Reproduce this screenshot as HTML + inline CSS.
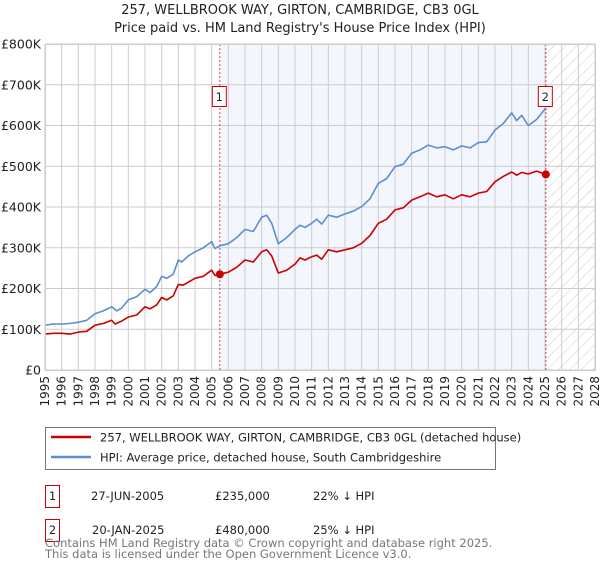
<!DOCTYPE html>
<html><head><meta charset="utf-8"><style>
body{margin:0;background:#fff;font-family:"DejaVu Sans","Liberation Sans",sans-serif;}
svg text{font-family:"DejaVu Sans","Liberation Sans",sans-serif;}
</style></head><body>
<svg id="c" width="600" height="560" xmlns="http://www.w3.org/2000/svg">
<defs><pattern id="hatch" width="8" height="8" patternUnits="userSpaceOnUse" patternTransform="rotate(45)"><line x1="0" y1="0" x2="0" y2="8" stroke="#ccc" stroke-width="1"/></pattern></defs>
<text x="300" y="14" text-anchor="middle" font-size="13" fill="#222">257, WELLBROOK WAY, GIRTON, CAMBRIDGE, CB3 0GL</text>
<text x="300" y="32" text-anchor="middle" font-size="13" fill="#222">Price paid vs. HM Land Registry's House Price Index (HPI)</text>
<g id="plot"></g>
<g id="legend">
<rect x="45.5" y="427.5" width="450" height="42" fill="#fff" stroke="#777"/>
<line x1="51" y1="437" x2="91" y2="437" stroke="#cc0000" stroke-width="2.5"/>
<text x="100" y="441.5" font-size="11.5" fill="#222">257, WELLBROOK WAY, GIRTON, CAMBRIDGE, CB3 0GL (detached house)</text>
<line x1="51" y1="457" x2="91" y2="457" stroke="#5b8fd0" stroke-width="2.5"/>
<text x="100" y="461.5" font-size="11.5" fill="#222">HPI: Average price, detached house, South Cambridgeshire</text>
</g>
<g font-size="11.5" fill="#222">
<rect x="45.5" y="485.5" width="14" height="22" fill="#fff" stroke="#cc0000"/>
<text x="52.5" y="500" text-anchor="middle">1</text>
<text x="91" y="500">27-JUN-2005</text><text x="215" y="500">£235,000</text><text x="313" y="500">22% ↓ HPI</text>
<rect x="45.5" y="519.5" width="14" height="22" fill="#fff" stroke="#cc0000"/>
<text x="52.5" y="534" text-anchor="middle">2</text>
<text x="92" y="534">20-JAN-2025</text><text x="215" y="534">£480,000</text><text x="313" y="534">25% ↓ HPI</text>
</g>
<text x="45" y="547" font-size="11.5" fill="#777">Contains HM Land Registry data © Crown copyright and database right 2025.</text>
<text x="45" y="558" font-size="11.5" fill="#777">This data is licensed under the Open Government Licence v3.0.</text>
</svg>
<script>
const hpiYears=[1995,1995.5,1996,1996.5,1997,1997.5,1998,1998.5,1999,1999.3,1999.6,2000,2000.5,2001,2001.3,2001.7,2002,2002.3,2002.7,2003,2003.2,2003.6,2004,2004.5,2005,2005.2,2005.5,2006,2006.5,2007,2007.5,2008,2008.3,2008.6,2009,2009.5,2010,2010.3,2010.6,2011,2011.3,2011.6,2012,2012.5,2013,2013.5,2014,2014.5,2015,2015.5,2016,2016.5,2017,2017.5,2018,2018.5,2019,2019.5,2020,2020.5,2021,2021.5,2022,2022.5,2023,2023.3,2023.6,2024,2024.5,2025.05];
const hpiValues=[110,113,113,114,117,122,138,145,155,145,152,172,180,198,190,205,230,225,235,270,265,280,290,300,315,298,305,310,325,345,340,375,380,360,310,325,345,355,350,360,370,358,380,375,383,390,401,420,458,470,499,505,532,540,552,545,548,540,550,545,558,560,589,605,631,612,625,600,615,643];
const ppYears=[1995,1995.5,1996,1996.5,1997,1997.5,1998,1998.5,1999,1999.2,1999.6,2000,2000.5,2001,2001.3,2001.7,2002,2002.3,2002.7,2003,2003.3,2003.7,2004,2004.5,2005,2005.2,2005.49,2006,2006.5,2007,2007.5,2008,2008.3,2008.6,2009,2009.5,2010,2010.3,2010.6,2011,2011.3,2011.6,2012,2012.5,2013,2013.5,2014,2014.5,2015,2015.5,2016,2016.5,2017,2017.5,2018,2018.5,2019,2019.5,2020,2020.5,2021,2021.5,2022,2022.5,2023,2023.3,2023.6,2024,2024.5,2025.05];
const ppValues=[88,90,90,88,93,95,110,114,122,113,120,130,135,155,150,160,178,172,182,210,208,218,225,230,245,232,235,240,252,270,265,290,295,280,238,245,260,275,270,278,282,272,295,290,295,300,311,330,360,370,393,398,417,425,434,425,430,420,430,425,434,438,462,475,486,478,485,481,488,480];
const yTicks=[0,100,200,300,400,500,600,700,800];
const yTickLabels=['£0','£100K','£200K','£300K','£400K','£500K','£600K','£700K','£800K'];
const xTicks=[];for(let y=1995;y<=2028;y++)xTicks.push(y);
const sales=[{n:'1',year:2005.49,value:235},{n:'2',year:2025.05,value:480}];

const L=45,R=595,T=44,B=370;
const xs=y=>L+(y-1995)/(2028-1995)*(R-L);
const ys=v=>B-v/800*(B-T);
const NS='http://www.w3.org/2000/svg';
const g=document.getElementById('plot');
function mk(tag,attrs,parent){const e=document.createElementNS(NS,tag);for(const k in attrs)e.setAttribute(k,attrs[k]);(parent||g).appendChild(e);return e;}
let e;
e=mk('rect',{x:xs(sales[0].year),y:T,width:xs(sales[1].year)-xs(sales[0].year),height:B-T,fill:'#f3f6fd'});


e=mk('rect',{x:xs(sales[1].year),y:T,width:R-xs(sales[1].year),height:B-T,fill:'url(#hatch)'});


xTicks.forEach(y=>{
 e=mk('line',{x1:xs(y),x2:xs(y),y1:T,y2:B,stroke:'#ccc','stroke-width':1});
 
 
 e=mk('text',{transform:`translate(${xs(y)+4},${B+6}) rotate(-90)`,'text-anchor':'end','font-size':12,fill:'#222'});
 e.textContent=y;
 
 
});
yTicks.forEach((v,i)=>{
 e=mk('line',{x1:L,x2:R,y1:ys(v),y2:ys(v),stroke:'#ccc','stroke-width':1});
 
 
 e=mk('text',{x:L-4,y:ys(v)+4.5,'text-anchor':'end','font-size':12.5,fill:'#222'});
 e.textContent=yTickLabels[i];
 
 
});
sales.forEach(s=>{
 e=mk('line',{x1:xs(s.year),x2:xs(s.year),y1:T,y2:B,stroke:'#e04040','stroke-width':1,'stroke-dasharray':'2,2'});
 
 
});
function line(xa,va,color,name){
 const d=xa.map((x,i)=>(i?'L':'M')+xs(x).toFixed(1)+','+ys(va[i]).toFixed(1)).join('');
 const p=mk('path',{d:d,fill:'none',stroke:color,'stroke-width':1.6,'stroke-linejoin':'round'});
 
 
}
line(hpiYears,hpiValues,'#5b8fd0','hpi-line');
line(ppYears,ppValues,'#cc0000','property-price-line');
sales.forEach(s=>{
 e=mk('circle',{cx:xs(s.year),cy:ys(s.value),r:4,fill:'#cc0000'});
 
 
 e=mk('rect',{x:xs(s.year)-7.5,y:86.5,width:14,height:20,fill:'#fff',stroke:'#cc0000'});
 
 
 e=mk('text',{x:xs(s.year)-0.5,y:101,'text-anchor':'middle','font-size':11.5,fill:'#222'});
 e.textContent=s.n;
 
 
});
e=mk('rect',{x:L+0.5,y:T+0.5,width:R-L,height:B-T,fill:'none',stroke:'#ccc'});


</script>
</body></html>
